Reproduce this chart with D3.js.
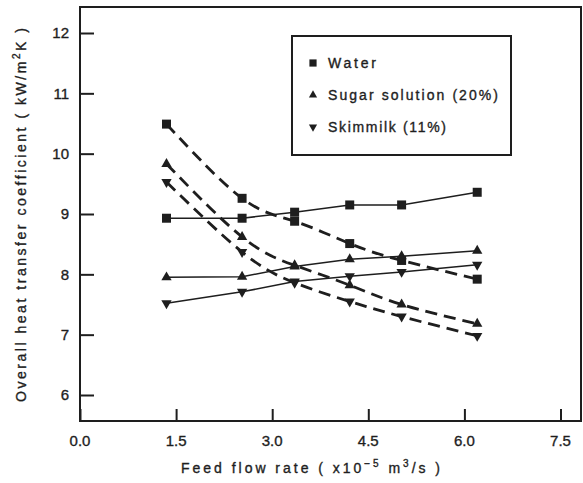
<!DOCTYPE html>
<html>
<head>
<meta charset="utf-8">
<script src="https://cdn.jsdelivr.net/npm/d3@7"></script>
<style>
  html, body { margin: 0; padding: 0; background: #fff; }
  svg { display: block; }
  text { font-family: "Liberation Sans", Arial, Helvetica, sans-serif; fill: #1e1e1e; stroke: #1e1e1e; stroke-width: 0.35px; }
</style>
</head>
<body>
<svg id="chart" width="583" height="483"></svg>
<script>
// ---- data ----
const flowRates = [1.35, 2.53, 3.35, 4.21, 5.02, 6.2];
const waterSolid = [8.93, 8.93, 9.03, 9.15, 9.15, 9.36];
const waterDashed = [10.49, 9.26, 8.88, 8.51, 8.23, 7.92];
const sugarSolid = [7.95, 7.96, 8.13, 8.25, 8.3, 8.39];
const sugarDashed = [9.83, 8.62, 8.15, 7.82, 7.5, 7.18];
const skimSolid = [7.52, 7.71, 7.88, 7.97, 8.04, 8.16];
const skimDashed = [9.53, 8.37, 7.86, 7.55, 7.3, 6.98];
const xTicks = [0, 1.5, 3.0, 4.5, 6.0, 7.5];
const yTicks = [6, 7, 8, 9, 10, 11, 12];
const legendLabels = ["Water", "Sugar solution (20%)", "Skimmilk (11%)"];
const legendWidths = [48, 170, 118];

// ---- layout ----
const pLeft = 80, pRight = 581, pTop = 7, pBottom = 421;
const ink = "#1e1e1e";
const svg = d3.select("#chart");

const x = d3.scaleLinear().domain([0, 7.82]).range([pLeft, pRight]);
const y = d3.scaleLinear().domain([5.569, 12.431]).range([pBottom, pTop]);

// frame
svg.append("rect")
  .attr("x", pLeft).attr("y", pTop)
  .attr("width", pRight - pLeft).attr("height", pBottom - pTop)
  .attr("fill", "none").attr("stroke", ink).attr("stroke-width", 2);

// y axis ticks (inward)
const yAxis = d3.axisRight(y).tickValues(yTicks).tickSize(14).tickFormat("");
const gy = svg.append("g").attr("transform", `translate(${pLeft},0)`).call(yAxis);
gy.select(".domain").remove();
gy.selectAll("line").attr("stroke", ink).attr("stroke-width", 2);
svg.append("g").selectAll("text").data(yTicks).join("text")
  .attr("x", 69).attr("y", d => y(d)).attr("dy", "0.36em")
  .attr("text-anchor", "end").attr("font-size", 15)
  .text(d => d);

// x axis ticks (inward)
const xAxis = d3.axisTop(x).tickValues(xTicks).tickSize(12).tickFormat("");
const gx = svg.append("g").attr("transform", `translate(0,${pBottom})`).call(xAxis);
gx.select(".domain").remove();
gx.selectAll("line").attr("stroke", ink).attr("stroke-width", 2);
svg.append("g").selectAll("text").data(xTicks).join("text")
  .attr("x", d => x(d)).attr("y", 446)
  .attr("text-anchor", "middle").attr("font-size", 15)
  .text(d => d.toFixed(1));

// axis titles
const xt = svg.append("text").attr("x", 181).attr("y", 473).attr("font-size", 14)
  .attr("textLength", 259).attr("lengthAdjust", "spacing");
xt.append("tspan").text("Feed flow rate ( x10");
xt.append("tspan").attr("dy", -6).attr("font-size", 10).text("−5");
xt.append("tspan").attr("dy", 6).text(" m");
xt.append("tspan").attr("dy", -6).attr("font-size", 10).text("3");
xt.append("tspan").attr("dy", 6).text("/s )");

const yt = svg.append("text").attr("transform", "translate(26,402) rotate(-90)")
  .attr("font-size", 14).attr("textLength", 374).attr("lengthAdjust", "spacing");
yt.append("tspan").text("Overall heat transfer coefficient ( kW/m");
yt.append("tspan").attr("dy", -6).attr("font-size", 10).text("2");
yt.append("tspan").attr("dy", 6).text("K )");

// ---- series ----
const mk = vals => flowRates.map((f, i) => ({ x: f, y: vals[i] }));
const series = [
  { vals: waterSolid, dashed: false, shape: "square" },
  { vals: sugarSolid, dashed: false, shape: "up" },
  { vals: skimSolid, dashed: false, shape: "down" },
  { vals: waterDashed, dashed: true, shape: "square" },
  { vals: sugarDashed, dashed: true, shape: "up" },
  { vals: skimDashed, dashed: true, shape: "down" }
];

const solidLine = d3.line().x(d => x(d.x)).y(d => y(d.y)).curve(d3.curveLinear);
const dashLine = d3.line().x(d => x(d.x)).y(d => y(d.y)).curve(d3.curveNatural);

series.forEach(s => {
  svg.append("path").datum(mk(s.vals))
    .attr("d", s.dashed ? dashLine : solidLine).attr("fill", "none").attr("stroke", ink)
    .attr("stroke-width", s.dashed ? 2.8 : 1.5)
    .attr("stroke-dasharray", s.dashed ? "12,7" : null);
});

function marker(sel, shape, scale) {
  const k = scale || 1;
  if (shape === "square") {
    sel.attr("d", d3.symbol().type(d3.symbolSquare).size(81 * k * k)());
  } else {
    sel.attr("d", d3.symbol().type(d3.symbolTriangle).size(46 * k * k)());
  }
}

series.forEach(s => {
  svg.append("g").selectAll("path").data(mk(s.vals)).join("path")
    .attr("transform", d => `translate(${x(d.x)},${y(d.y)})` + (s.shape === "down" ? " rotate(180)" : ""))
    .attr("fill", ink)
    .call(marker, s.shape, 1);
});

// ---- legend ----
const lg = svg.append("g");
lg.append("rect").attr("x", 292).attr("y", 36).attr("width", 219).attr("height", 119)
  .attr("fill", "#fff").attr("stroke", ink).attr("stroke-width", 2);
const shapes = ["square", "up", "down"];
const ly = [63, 95, 127];
legendLabels.forEach((lab, i) => {
  lg.append("path")
    .attr("transform", `translate(313,${ly[i]})` + (shapes[i] === "down" ? " rotate(180)" : ""))
    .attr("fill", ink).call(marker, shapes[i], 0.8);
  lg.append("text").attr("x", 328).attr("y", ly[i] + 5).attr("font-size", 14)
    .attr("textLength", legendWidths[i]).attr("lengthAdjust", "spacing")
    .text(lab);
});
</script>
</body>
</html>
